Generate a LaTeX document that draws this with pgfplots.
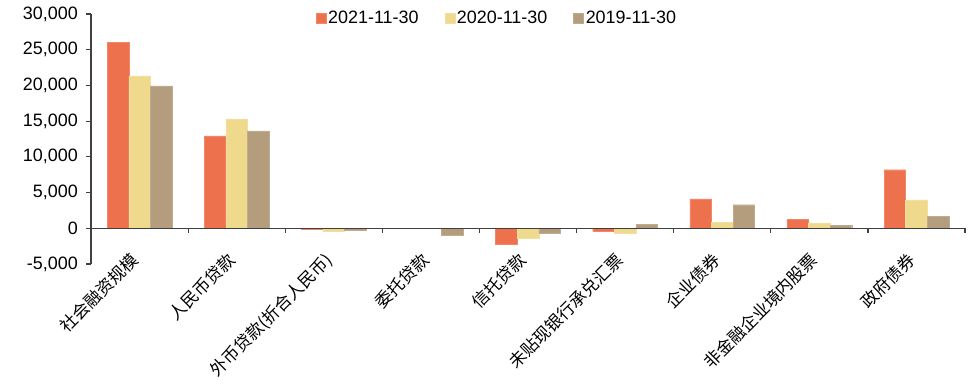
\documentclass[border=0pt]{standalone}
\usepackage{fontspec}
\setmainfont{Liberation Sans}
\newfontfamily\cjk{Noto Sans CJK SC}
\usepackage{pgfplots}
\pgfplotsset{compat=1.18}
\usepackage{pgfplotstable}
\usetikzlibrary{calc}

\definecolor{cRed}{RGB}{238,113,78}
\definecolor{cYel}{RGB}{238,217,140}
\definecolor{cTan}{RGB}{179,157,124}
\definecolor{axisgray}{RGB}{64,64,64}

% flows by category: 0..8
\pgfplotstableread{
x  a2021  a2020  a2019
0  26070  21330  19930
1  12950  15320  13650
2  -100   -460   -280
3  -30    -20    -1020
4  -2190  -1400  -700
5  -420   -650   560
6  4100   840    3300
7  1260   750    420
8  8200   3970   1680
}\flows

\begin{document}
\begin{tikzpicture}
\begin{axis}[
  name=ax,
  scale only axis,
  width=874bp, height=250bp,
  xmin=-0.5, xmax=8.5,
  ymin=-5000, ymax=30000,
  ytick={-5000,0,5000,10000,15000,20000,25000,30000},
  ybar=0pt, bar width=21.6bp,
  axis y line*=left,
  axis x line*=bottom,
  x axis line style={draw=none},
  y axis line style={axisgray, line width=1.2bp},
  tick align=outside,
  major tick length=5bp,
  ytick style={axisgray, line width=1.2bp},
  xtick style={draw=none},
  xtick=data,
  xticklabels={社会融资规模,人民币贷款,外币贷款(折合人民币),委托贷款,信托贷款,未贴现银行承兑汇票,企业债券,非金融企业境内股票,政府债券},
  xticklabel style={font=\cjk\fontsize{17}{19}\selectfont, rotate=45, anchor=north east, inner sep=0pt, xshift=5bp, yshift=20bp},
  yticklabel style={font=\fontsize{18}{20}\selectfont, inner sep=0pt, xshift=-8bp},
  /pgf/number format/assume math mode=true,
  /pgf/number format/1000 sep={,},
  scaled y ticks=false,
  clip=false,
  legend columns=3,
  legend style={draw=none, fill=none, at={(0.4645,0.984)}, anchor=center,
    font=\fontsize{18}{20}\selectfont, inner sep=0pt,
    /tikz/every even column/.append style={column sep=24bp}},
  legend image code/.code={\fill[#1] (0bp,-5bp) rectangle (10bp,5bp);},
]
\addplot[fill=cRed, draw=cRed!85!white] table[x=x, y=a2021] {\flows};
\addplot[fill=cYel, draw=cYel!85!white] table[x=x, y=a2020] {\flows};
\addplot[fill=cTan, draw=cTan!85!white] table[x=x, y=a2019] {\flows};
\legend{2021-11-30, 2020-11-30, 2019-11-30}

% zero line with category separators
\draw[axisgray, line width=1.2bp] (axis cs:-0.5,0) -- (axis cs:8.5,0);
\foreach \k in {0.5,1.5,2.5,3.5,4.5,5.5,6.5,7.5,8.5}{
  \edef\tmp{\noexpand\draw[axisgray, line width=1.2bp] (axis cs:\k,0) -- ([yshift=-5bp]axis cs:\k,0);}
  \tmp
}
\end{axis}
\path ($(ax.south west)+(-91bp,-121bp)$) rectangle ($(ax.north east)+(6bp,14bp)$);
\end{tikzpicture}
\end{document}
